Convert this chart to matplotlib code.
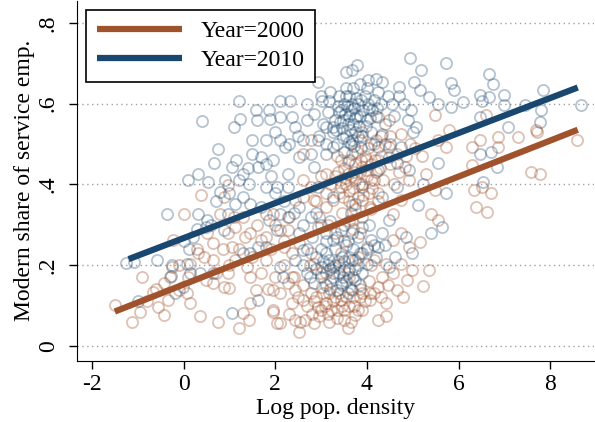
import matplotlib
matplotlib.use("Agg")
import matplotlib.pyplot as plt
import numpy as np

plt.rcParams['font.family'] = ['Liberation Serif', 'DejaVu Serif']

# --- data (log pop. density, modern service share) ---
pts_2000 = [
    (-1.49, 0.101), (-1.12, 0.06), (-0.96, 0.085), (-0.9, 0.171), (-0.67, 0.134),
    (-0.55, 0.097), (-0.43, 0.077), (-0.34, 0.114), (-0.1, 0.138), (0.07, 0.13),
    (0.15, 0.106), (0.02, 0.328), (-0.22, 0.262), (0.39, 0.373), (0.35, 0.073),
    (0.48, 0.163), (0.31, 0.229), (0.64, 0.254), (0.75, 0.06), (0.89, 0.147),
    (1.0, 0.143), (0.97, 0.398), (0.89, 0.369), (1.05, 0.246), (1.13, 0.213),
    (1.21, 0.044), (1.30, 0.081), (1.42, 0.064), (1.46, 0.106), (1.58, 0.138),
    (1.70, 0.18), (1.79, 0.213), (1.95, 0.085), (2.03, 0.056), (2.11, 0.056),
    (1.95, 0.328), (1.30, 0.32), (1.46, 0.279), (1.70, 0.262), (2.11, 0.287),
    (2.28, 0.287), (2.36, 0.171), (2.52, 0.035), (2.44, 0.064), (2.65, 0.064),
    (2.85, 0.056), (2.93, 0.097), (3.10, 0.106), (3.18, 0.06), (3.34, 0.089),
    (3.51, 0.064), (3.59, 0.044), (3.75, 0.077), (3.90, 0.089), (4.07, 0.114),
    (4.25, 0.064), (4.41, 0.073), (4.41, 0.106), (4.66, 0.138), (4.79, 0.122),
    (4.87, 0.163), (4.98, 0.188), (5.23, 0.148), (5.36, 0.188), (5.15, 0.258),
    (4.92, 0.246), (5.48, 0.386), (5.39, 0.328), (5.56, 0.312), (5.28, 0.427),
    (5.48, 0.571), (5.56, 0.51), (5.72, 0.493), (5.8, 0.534), (6.30, 0.493),
    (6.30, 0.448), (6.34, 0.386), (6.38, 0.345), (6.5, 0.394), (6.46, 0.51),
    (6.59, 0.571), (6.70, 0.378), (6.62, 0.332), (6.87, 0.493), (6.87, 0.518),
    (7.30, 0.518), (7.59, 0.431), (7.77, 0.427), (7.72, 0.53), (7.69, 0.535),
    (8.59, 0.51), (4.57, 0.328), (4.75, 0.361), (4.92, 0.41), (4.66, 0.476),
    (4.84, 0.444), (4.49, 0.493), (4.33, 0.526), (4.16, 0.501), (3.90, 0.444),
    (3.75, 0.41), (3.59, 0.427), (3.43, 0.46), (3.43, 0.394), (3.26, 0.361),
    (3.10, 0.345), (2.93, 0.295), (2.85, 0.361), (2.77, 0.394), (2.61, 0.369),
    (2.44, 0.361), (2.61, 0.41), (3.90, 0.361), (4.07, 0.345), (4.25, 0.378),
    (4.16, 0.41), (3.98, 0.46), (3.67, 0.476), (3.84, 0.51), (4.25, 0.46),
    (3.67, 0.312), (3.84, 0.279), (4.0, 0.246), (4.16, 0.213), (4.33, 0.171),
    (4.25, 0.147), (4.07, 0.13), (3.84, 0.122), (3.67, 0.138), (3.43, 0.114),
    (3.18, 0.13), (3.02, 0.147), (2.77, 0.13), (2.61, 0.114), (2.44, 0.138),
    (2.28, 0.155), (2.11, 0.13), (1.95, 0.138), (2.36, 0.106), (3.26, 0.196),
    (3.10, 0.18), (2.85, 0.204), (2.77, 0.229), (2.52, 0.254), (2.36, 0.229),
    (2.20, 0.246), (3.43, 0.229), (3.59, 0.18), (3.75, 0.213), (4.41, 0.204),
    (4.57, 0.18), (4.75, 0.204), (4.57, 0.262), (4.75, 0.279), (0.80, 0.328),
    (1.13, 0.295), (0.97, 0.279), (0.52, 0.279), (0.64, 0.213), (0.64, 0.155),
    (0.15, 0.204), (-0.26, 0.196), (-0.43, 0.155), (0.97, 0.18), (1.38, 0.196),
    (1.46, 0.171), (1.79, 0.328), (2.77, 0.51), (2.61, 0.476), (3.10, 0.427),
    (4.49, 0.559), (4.25, 0.567), (4.75, 0.526),
    (3.3, 0.42), (3.4, 0.38), (3.5, 0.44), (3.55, 0.4), (3.6, 0.36), (3.65, 0.42),
    (3.7, 0.39), (3.75, 0.45), (3.8, 0.37), (3.85, 0.43), (3.9, 0.4), (3.95, 0.47),
    (4.0, 0.42), (4.05, 0.38), (4.1, 0.45), (4.2, 0.43), (4.3, 0.47), (4.35, 0.41),
    (4.4, 0.5), (4.5, 0.45), (3.35, 0.47), (3.45, 0.33), (3.6, 0.31), (3.75, 0.34),
    (3.9, 0.32), (4.1, 0.34), (4.25, 0.36), (3.2, 0.4), (3.1, 0.38), (3.0, 0.42),
    (2.9, 0.36), (2.95, 0.32), (3.15, 0.3), (3.3, 0.28), (3.5, 0.26), (3.7, 0.29),
    (4.6, 0.4), (4.7, 0.43), (4.85, 0.47), (4.95, 0.5), (5.05, 0.49), (5.2, 0.47),
    (4.5, 0.52), (4.2, 0.51), (3.9, 0.53),
    (3.52, 0.415), (3.62, 0.385), (3.72, 0.43), (3.82, 0.4), (3.92, 0.375),
    (3.97, 0.435), (4.08, 0.41), (4.18, 0.46), (3.58, 0.455), (3.68, 0.35),
    (3.48, 0.37), (3.38, 0.43), (4.02, 0.49), (4.28, 0.44), (3.78, 0.48),
    (3.87, 0.46), (4.12, 0.39), (3.42, 0.41),
    (2.7, 0.1), (2.8, 0.08), (2.9, 0.12), (3.0, 0.09), (3.05, 0.13), (3.15, 0.08),
    (3.25, 0.11), (3.35, 0.07), (3.4, 0.13), (3.5, 0.09), (3.6, 0.1), (3.65, 0.06),
    (3.7, 0.12), (3.8, 0.09), (3.85, 0.14), (3.95, 0.11), (4.05, 0.16), (4.15, 0.13),
    (4.3, 0.12), (4.45, 0.15), (2.6, 0.15), (2.5, 0.12), (2.4, 0.17), (2.2, 0.2),
    (2.0, 0.17), (1.85, 0.14), (3.0, 0.18), (3.2, 0.16), (3.4, 0.2), (3.6, 0.17),
    (3.8, 0.22), (4.1, 0.2), (2.75, 0.2), (2.55, 0.06), (2.3, 0.08), (1.95, 0.09),
    (2.95, 0.075), (3.08, 0.1), (3.22, 0.09), (3.3, 0.12), (3.45, 0.1), (3.55, 0.12),
    (3.72, 0.1), (3.9, 0.13), (2.85, 0.11),
    (1.0, 0.2), (1.2, 0.24), (1.35, 0.27), (1.5, 0.22), (1.6, 0.3), (1.8, 0.27),
    (1.9, 0.24), (2.0, 0.3), (2.2, 0.26), (2.3, 0.32), (1.1, 0.32), (0.85, 0.24),
    (0.7, 0.18), (0.45, 0.22), (0.3, 0.24), (0.1, 0.17), (-0.1, 0.2), (-0.3, 0.17),
    (-0.6, 0.14), (-0.8, 0.11),
]

pts_2010 = [
    (-1.25, 0.206), (-1.08, 0.209), (-0.59, 0.214), (-0.36, 0.328), (-0.26, 0.2),
    (-0.28, 0.173), (-1.0, 0.11), (0.09, 0.41), (0.31, 0.427), (0.41, 0.557),
    (0.54, 0.406), (0.31, 0.328), (0.11, 0.24), (0.07, 0.204), (0.15, 0.18),
    (0.48, 0.295), (0.52, 0.312), (0.66, 0.452), (0.76, 0.489), (0.80, 0.382),
    (0.89, 0.287), (1.05, 0.081), (1.05, 0.444), (1.11, 0.542), (1.21, 0.608),
    (1.24, 0.563), (1.15, 0.46), (1.30, 0.427), (1.42, 0.402), (1.50, 0.51),
    (1.58, 0.584), (1.5, 0.476), (1.62, 0.444), (1.70, 0.468), (1.79, 0.51),
    (1.87, 0.584), (1.89, 0.563), (1.95, 0.46), (2.11, 0.51), (2.11, 0.608),
    (2.11, 0.567), (2.32, 0.608), (2.36, 0.567), (2.21, 0.493), (2.28, 0.427),
    (2.44, 0.542), (2.61, 0.51), (2.69, 0.6), (2.85, 0.575), (2.93, 0.654),
    (3.02, 0.608), (3.18, 0.608), (3.26, 0.542), (3.43, 0.584), (3.55, 0.678),
    (3.67, 0.683), (3.79, 0.695), (4.03, 0.658), (4.20, 0.662), (4.33, 0.654),
    (4.70, 0.641), (4.94, 0.714), (5.02, 0.654), (5.19, 0.683), (5.15, 0.633),
    (5.35, 0.617), (5.72, 0.701), (5.84, 0.651), (5.89, 0.633), (6.09, 0.604),
    (5.56, 0.6), (5.84, 0.592), (6.46, 0.621), (6.5, 0.608), (6.66, 0.673),
    (6.75, 0.65), (6.66, 0.617), (6.99, 0.621), (6.99, 0.596), (7.07, 0.542),
    (6.46, 0.567), (6.46, 0.476), (6.70, 0.481), (6.83, 0.444), (6.54, 0.406),
    (7.85, 0.633), (7.8, 0.584), (7.77, 0.555), (7.44, 0.596), (8.67, 0.598),
    (5.72, 0.378), (5.64, 0.295), (5.39, 0.279), (5.11, 0.349), (5.23, 0.402),
    (5.56, 0.452), (4.98, 0.229), (4.86, 0.27), (4.61, 0.221), (4.49, 0.196),
    (4.75, 0.493), (4.92, 0.435), (4.96, 0.584), (5.08, 0.542),
    (2.11, 0.196), (2.16, 0.171), (2.44, 0.213), (2.61, 0.237), (2.52, 0.279),
    (2.69, 0.18), (2.85, 0.155), (3.02, 0.196), (3.18, 0.213), (3.26, 0.171),
    (3.43, 0.155), (3.51, 0.188), (3.67, 0.213), (3.75, 0.163), (3.84, 0.229),
    (4.0, 0.204), (3.34, 0.138), (3.59, 0.13), (3.10, 0.279), (3.26, 0.262),
    (3.43, 0.287), (3.67, 0.279), (3.90, 0.295), (4.08, 0.262), (4.25, 0.246),
    (4.33, 0.279), (4.49, 0.312), (2.77, 0.32), (2.52, 0.345), (2.28, 0.32),
    (2.11, 0.328), (2.03, 0.287), (1.79, 0.246), (1.62, 0.246), (1.46, 0.229),
    (1.30, 0.229), (0.97, 0.328), (1.13, 0.352), (1.30, 0.369), (1.46, 0.352),
    (1.70, 0.345), (1.87, 0.312), (1.79, 0.394), (2.03, 0.394), (2.28, 0.394),
    (0.64, 0.18), (0.35, 0.18), (-0.18, 0.13), (-0.02, 0.147), (1.62, 0.114),
    (4.25, 0.493), (4.49, 0.468), (4.66, 0.452), (4.25, 0.435), (4.66, 0.394),
    (4.33, 0.369), (3.90, 0.394), (3.75, 0.352), (3.26, 0.369), (2.93, 0.394),
    (2.85, 0.444), (3.10, 0.476), (2.93, 0.51), (3.10, 0.542), (3.26, 0.493),
    (2.77, 0.476), (2.52, 0.468),
    (3.3, 0.56), (3.4, 0.58), (3.45, 0.54), (3.5, 0.6), (3.55, 0.52), (3.6, 0.57),
    (3.62, 0.62), (3.65, 0.5), (3.7, 0.55), (3.72, 0.59), (3.75, 0.53), (3.8, 0.6),
    (3.85, 0.57), (3.9, 0.52), (3.95, 0.62), (4.0, 0.56), (4.05, 0.59), (4.1, 0.53),
    (4.15, 0.61), (4.2, 0.57), (4.3, 0.6), (4.4, 0.55), (3.35, 0.5), (3.5, 0.48),
    (3.6, 0.46), (3.4, 0.62), (3.55, 0.64), (3.7, 0.64), (3.85, 0.65), (4.0, 0.64),
    (4.25, 0.63), (4.45, 0.62), (4.55, 0.6), (4.6, 0.57), (3.25, 0.53), (3.15, 0.58),
    (3.05, 0.55), (2.95, 0.52), (3.1, 0.5), (3.48, 0.56), (3.68, 0.51), (3.78, 0.57),
    (3.58, 0.55), (3.88, 0.49), (4.1, 0.5), (4.3, 0.52), (4.5, 0.5), (4.8, 0.6),
    (4.9, 0.56), (5.0, 0.53), (2.7, 0.56), (2.5, 0.52), (2.3, 0.5), (2.0, 0.53),
    (1.6, 0.56), (3.0, 0.62), (3.2, 0.63), (4.7, 0.62),
    (3.42, 0.555), (3.52, 0.575), (3.57, 0.595), (3.64, 0.535), (3.66, 0.585),
    (3.74, 0.565), (3.77, 0.615), (3.82, 0.545), (3.92, 0.585), (3.97, 0.545),
    (4.07, 0.565), (4.12, 0.585), (3.47, 0.515), (3.62, 0.505), (3.72, 0.495),
    (3.37, 0.595), (3.32, 0.535), (3.87, 0.61), (4.02, 0.6), (4.22, 0.59),
    (3.55, 0.62), (3.68, 0.6), (3.8, 0.52),
    (2.9, 0.33), (3.0, 0.3), (3.1, 0.26), (3.2, 0.31), (3.35, 0.27), (3.5, 0.3),
    (3.55, 0.25), (3.65, 0.33), (3.8, 0.27), (3.9, 0.23), (4.05, 0.3), (4.15, 0.25),
    (4.2, 0.22), (4.4, 0.25), (3.45, 0.22), (3.3, 0.24), (3.0, 0.24), (2.8, 0.27),
    (2.7, 0.24), (2.6, 0.3), (2.4, 0.33), (2.2, 0.36), (2.0, 0.38), (1.9, 0.42),
    (1.8, 0.45), (1.4, 0.44), (1.2, 0.41), (1.0, 0.38), (0.9, 0.41), (0.7, 0.36),
    (0.6, 0.3), (0.3, 0.29), (0.2, 0.27), (0.0, 0.26),
    (3.0, 0.17), (3.1, 0.15), (3.2, 0.19), (3.3, 0.2), (3.4, 0.18), (3.5, 0.21),
    (3.55, 0.16), (3.6, 0.19), (3.7, 0.17), (3.8, 0.2), (3.85, 0.15), (3.65, 0.14),
    (3.45, 0.15), (3.2, 0.14), (2.9, 0.19), (2.75, 0.17), (2.6, 0.2), (2.9, 0.22),
    (3.1, 0.23), (3.7, 0.24), (3.9, 0.18), (4.0, 0.24),
    (3.25, 0.18), (3.38, 0.21), (3.48, 0.17), (3.62, 0.22), (3.75, 0.19),
    (3.15, 0.2), (3.05, 0.21), (3.58, 0.26),
]

# fitted lines: intercept, slope, x span
fit_2000 = (0.152, 0.0446, -1.5, 8.6)
fit_2010 = (0.267, 0.0434, -1.2, 8.6)

xticks = [-2, 0, 2, 4, 6, 8]
yticks = [0, 0.2, 0.4, 0.6, 0.8]
ytick_labels = ['0', '.2', '.4', '.6', '.8']

c2000 = '#A0522D'
c2010 = '#1A476F'

fig = plt.figure(figsize=(5.95, 4.22), dpi=100)
ax = fig.add_axes([0.129, 0.145, 0.869, 0.853])

x0, y0 = np.array(pts_2000).T
x1, y1 = np.array(pts_2010).T
ax.plot(x0, y0, 'o', mfc='none', mec=c2000, mew=1.3, ms=8, alpha=0.35, zorder=2)
ax.plot(x1, y1, 'o', mfc='none', mec=c2010, mew=1.3, ms=8, alpha=0.32, zorder=2)

for fit, col, lab in [(fit_2000, c2000, 'Year=2000'), (fit_2010, c2010, 'Year=2010')]:
    a, b, lo, hi = fit
    xx = np.array([lo, hi])
    ax.plot(xx, a + b * xx, color=col, lw=4.5, solid_capstyle='butt', zorder=3, label=lab)

for yt in yticks:
    ax.axhline(yt, color='#a0a0a0', lw=1, ls=(0, (1, 2.5)), zorder=1)

ax.set_xlim(-2.33, 8.95)
ax.set_ylim(-0.037, 0.855)
ax.set_xticks(xticks)
ax.set_xticklabels([str(t) for t in xticks])
ax.set_yticks(yticks)
ax.set_yticklabels(ytick_labels, rotation=90, va='center')
ax.tick_params(labelsize=17, length=6, width=1, direction='out')
ax.tick_params(axis='y', pad=7)
ax.spines['top'].set_visible(False)
ax.spines['right'].set_visible(False)
ax.set_xlabel('Log pop. density', fontsize=17, labelpad=2)
ax.set_ylabel('Modern share of service emp.', fontsize=17, labelpad=2)

leg = ax.legend(loc='upper left', fontsize=17, frameon=True, fancybox=False,
                edgecolor='black', framealpha=1, handlelength=3.6, borderaxespad=0.4,
                borderpad=0.45, labelspacing=0.3)
leg.get_frame().set_linewidth(1.2)

fig.savefig('out.png', dpi=100)
